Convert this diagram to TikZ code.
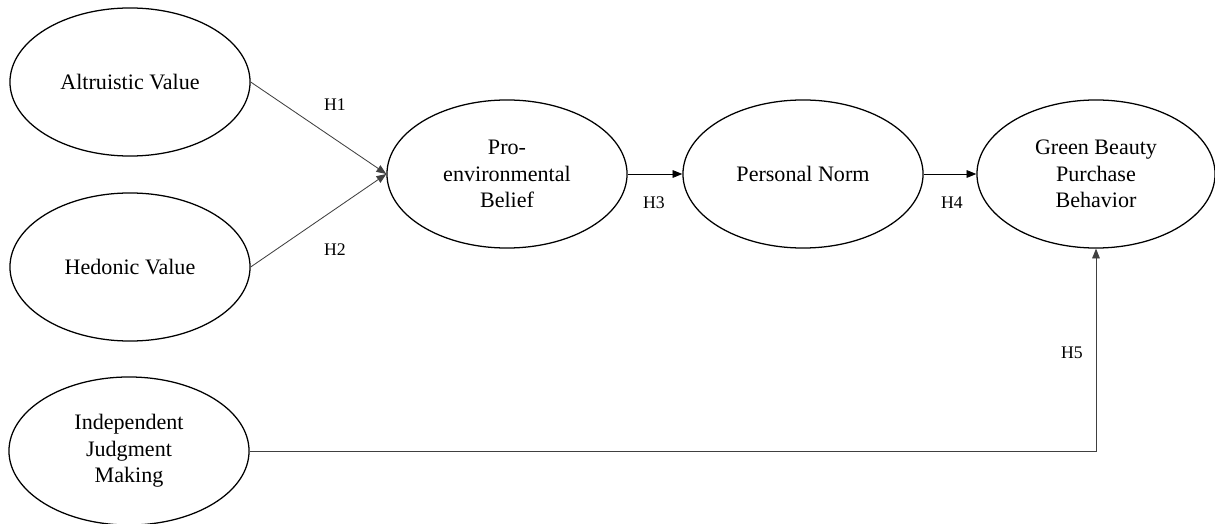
\documentclass[tikz,border=0pt]{standalone}
\usepackage{fontspec}
\setmainfont{Liberation Serif}
\usetikzlibrary{shapes.geometric,arrows.meta}
\tikzset{
	construct/.style={draw, ellipse, line width=0.9pt, inner sep=0pt, minimum width=6cm, minimum height=3.7cm, align=center, font=\fontsize{15.7}{19}\selectfont},
	path/.style={line width=0.6pt, color=black!75, -{Triangle[length=7pt,width=5.5pt]}},
	hyp/.style={font=\fontsize{12.6}{15}\selectfont, inner sep=0pt}
}

\begin{document}
\begin{tikzpicture}[x=0.025cm, y=-0.025cm]
			%%%%% START %%%%%
			
			\useasboundingbox (0, 0) rectangle (1215, 524);
			
			\node[construct] (alt) at (130, 82) {Altruistic Value};
			\node[construct] (hed) at (130, 267) {Hedonic Value};
			\node[construct] (ijm) at (129, 451) {Independent\\Judgment\\Making};
			
			\node[construct] (pro) at (507, 174) {Pro-\\environmental\\Belief};
			\node[construct] (pn) at (803, 174) {Personal Norm};
			\node[construct, minimum width=5.95cm] (gb) at (1096, 174) {Green Beauty\\Purchase\\Behavior};
			
			\draw[path] (alt.east) -- (pro.west);
			\draw[path] (hed.east) -- (pro.west);
			\draw[path, color=black] (pro.east) -- (pn.west);
			\draw[path, color=black] (pn.east) -- (gb.west);
			\draw[path] (ijm.east) -| (gb.south);
			
			\node[hyp] (h1) at (335, 105) {H1};
			\node[hyp] (h2) at (335, 250) {H2};
			\node[hyp] (h3) at (654, 203) {H3};
			\node[hyp] (h4) at (952, 203) {H4};
			\node[hyp] (h5) at (1072, 353) {H5};
			
			%%%%% END %%%%%
		\end{tikzpicture}
\end{document}
